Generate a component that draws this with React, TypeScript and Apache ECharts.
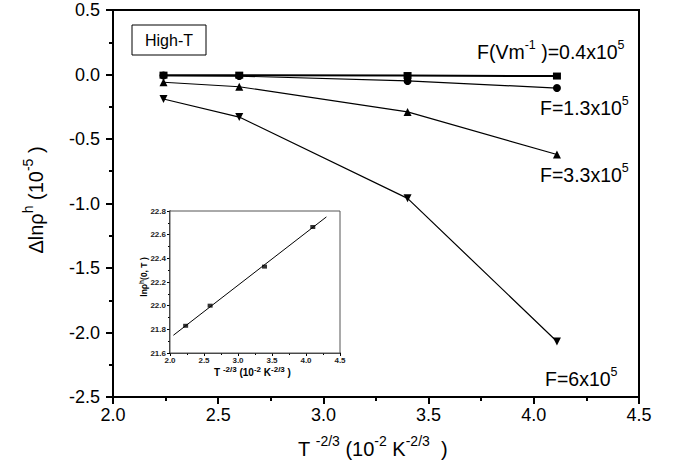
import React, { useEffect, useRef } from "react";
import * as echarts from "echarts";

const xValues = [2.24, 2.6, 3.4, 4.11];
const f04 = [-0.005, -0.005, -0.008, -0.012];
const f13 = [-0.008, -0.012, -0.05, -0.105];
const f33 = [-0.06, -0.095, -0.29, -0.62];
const f60 = [-0.19, -0.33, -0.96, -2.07];

const insetX = [2.23, 2.59, 3.39, 4.1];
const insetY = [21.83, 22.0, 22.33, 22.665];
const insetFitX = [2.05, 4.3];
const insetFitY = [21.75, 22.75];

const FONT = "Liberation Sans, Arial, sans-serif";

const zip = (a: number[], b: number[]) => a.map((v, i) => [v, b[i]]);

export default function App() {
  const ref = useRef<HTMLDivElement>(null);
  useEffect(() => {
    if (!ref.current) return;
    const chart = echarts.init(ref.current, null, { renderer: "svg" });
    const main = (size: number, bold = false) => ({
      fontSize: size,
      fontFamily: FONT,
      fontWeight: bold ? "bold" : "normal",
      color: "#000",
      lineHeight: Math.round(size * 1.3),
    });
    const sup = (size: number, raise: number, bold = false) => ({
      fontSize: size,
      fontFamily: FONT,
      fontWeight: bold ? "bold" : "normal",
      color: "#000",
      padding: [0, 0, raise * 2, 0],
    });
    const lineSeries = (data: number[], symbol: string, rotate = 0, width = 1.2) => ({
      type: "line",
      xAxisIndex: 0,
      yAxisIndex: 0,
      data: zip(xValues, data),
      symbol,
      symbolSize: symbol === "rect" ? [8, 7] : 8,
      symbolRotate: rotate,
      lineStyle: { color: "#000", width },
      itemStyle: { color: "#000" },
      z: 3,
    });
    const richMain = { a: main(19.5), s: sup(12.5, 7) };
    const richTitle = { a: main(20), s: sup(14, 8) };
    const richInsetX = { a: main(10, true), s: sup(8, 3, true) };
    const richInsetY = { a: main(8.5, true), s: sup(6.5, 3, true) };
    const label = (x: number, y: number, text: string) => ({
      type: "text",
      x,
      y,
      z: 10,
      style: { text, rich: richMain, align: "left", verticalAlign: "middle" },
    });
    chart.setOption({
      animation: false,
      backgroundColor: "#fff",
      grid: [
        { left: 113, top: 10, right: 38, bottom: 69, show: true, borderColor: "#000", borderWidth: 2, backgroundColor: "transparent" },
        { left: 170, top: 211, width: 170, height: 142, show: true, borderColor: "#555", borderWidth: 1, backgroundColor: "#fff", z: 5 },
      ],
      xAxis: [
        {
          type: "value", gridIndex: 0, min: 2, max: 4.5, interval: 0.5,
          axisLine: { show: true, onZero: false, lineStyle: { color: "#000", width: 2 } },
          axisTick: { show: true, inside: false, length: 7, lineStyle: { color: "#000", width: 2 } },
          minorTick: { show: true, splitNumber: 2, length: 4, lineStyle: { color: "#000", width: 2 } },
          splitLine: { show: false },
          axisLabel: { color: "#000", fontSize: 18, fontFamily: FONT, margin: 9, formatter: (v: number) => v.toFixed(1) },
        },
        {
          type: "value", gridIndex: 1, min: 2, max: 4.5, interval: 0.5,
          axisLine: { show: true, onZero: false, lineStyle: { color: "#000", width: 1.5 } },
          axisTick: { show: true, inside: false, length: 3, lineStyle: { color: "#000" } },
          minorTick: { show: true, splitNumber: 2, length: 2, lineStyle: { color: "#000" } },
          splitLine: { show: false },
          axisLabel: { color: "#222", fontSize: 8, fontWeight: "bold", fontFamily: FONT, margin: 3, formatter: (v: number) => v.toFixed(1) },
        },
      ],
      yAxis: [
        {
          type: "value", gridIndex: 0, min: -2.5, max: 0.5, interval: 0.5,
          axisLine: { show: true, onZero: false, lineStyle: { color: "#000", width: 2 } },
          axisTick: { show: true, inside: false, length: 7, lineStyle: { color: "#000", width: 2 } },
          minorTick: { show: true, splitNumber: 2, length: 4, lineStyle: { color: "#000", width: 2 } },
          splitLine: { show: false },
          axisLabel: { color: "#000", fontSize: 18, fontFamily: FONT, margin: 13, formatter: (v: number) => v.toFixed(1) },
        },
        {
          type: "value", gridIndex: 1, min: 21.6, max: 22.8, interval: 0.2,
          axisLine: { show: true, onZero: false, lineStyle: { color: "#000", width: 1.5 } },
          axisTick: { show: true, inside: false, length: 3, lineStyle: { color: "#000" } },
          minorTick: { show: true, splitNumber: 2, length: 2, lineStyle: { color: "#000" } },
          splitLine: { show: false },
          axisLabel: { color: "#222", fontSize: 8, fontWeight: "bold", fontFamily: FONT, margin: 4, formatter: (v: number) => v.toFixed(1) },
        },
      ],
      series: [
        lineSeries(f04, "rect", 0, 2),
        lineSeries(f13, "circle"),
        lineSeries(f33, "triangle"),
        lineSeries(f60, "triangle", 180),
        {
          type: "line", xAxisIndex: 1, yAxisIndex: 1, data: zip(insetFitX, insetFitY),
          symbol: "none", lineStyle: { color: "#000", width: 1 }, z: 6,
        },
        {
          type: "scatter", xAxisIndex: 1, yAxisIndex: 1, data: zip(insetX, insetY),
          symbol: "rect", symbolSize: [5, 4], itemStyle: { color: "#000" }, z: 7,
        },
      ],
      graphic: [
        {
          type: "rect", x: 132, y: 25, shape: { width: 74, height: 30 },
          style: { fill: "#fff", stroke: "#000", lineWidth: 1 }, z: 10,
        },
        {
          type: "text", x: 169, y: 40, z: 11,
          style: { text: "High-T", fontSize: 16, fontFamily: FONT, fill: "#000", align: "center", verticalAlign: "middle" },
        },
        label(477, 52, "{a|F(Vm}{s|-1}{a| )=0.4x10}{s|5}"),
        label(540, 108, "{a|F=1.3x10}{s|5}"),
        label(540, 175, "{a|F=3.3x10}{s|5}"),
        label(545, 379, "{a|F=6x10}{s|5}"),
        {
          type: "text", x: 298, y: 449, z: 10,
          style: { text: "{a|T }{s|-2/3}{a| (10}{s|-2}{a| K}{s|-2/3}{a|  )}", rich: richTitle, align: "left", verticalAlign: "middle" },
        },
        {
          type: "text", x: 36, y: 200, rotation: Math.PI / 2, z: 10,
          style: { text: "{a|Δlnρ}{s|h}{a| (10}{s|-5}{a| )}", rich: richTitle, align: "center", verticalAlign: "middle" },
        },
        {
          type: "text", x: 214, y: 372, z: 10,
          style: { text: "{a|T }{s|-2/3}{a| (10}{s|-2}{a| K}{s|-2/3}{a| )}", rich: richInsetX, align: "left", verticalAlign: "middle" },
        },
        {
          type: "text", x: 144, y: 277, rotation: Math.PI / 2, z: 10,
          style: { text: "{a|lnρ}{s|h}{a|(0, T )}", rich: richInsetY, align: "center", verticalAlign: "middle" },
        },
      ],
    });
    return () => chart.dispose();
  }, []);
  return <div ref={ref} style={{ position: "fixed", left: 0, top: 0, width: 677, height: 466 }} />;
}
